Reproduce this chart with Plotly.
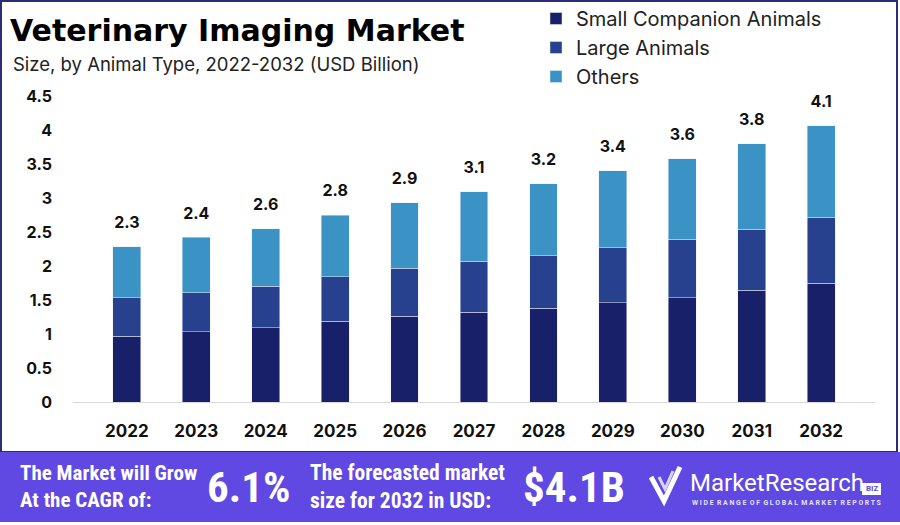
import plotly.graph_objects as go

years = ["2022", "2023", "2024", "2025", "2026", "2027", "2028", "2029", "2030", "2031", "2032"]
small_companion = [0.97, 1.03, 1.09, 1.19, 1.26, 1.32, 1.38, 1.46, 1.53, 1.64, 1.75]
large_animals = [0.56, 0.58, 0.61, 0.65, 0.71, 0.75, 0.77, 0.81, 0.86, 0.90, 0.97]
others = [0.75, 0.81, 0.85, 0.91, 0.96, 1.02, 1.06, 1.13, 1.19, 1.26, 1.34]
total_labels = ["2.3", "2.4", "2.6", "2.8", "2.9", "3.1", "3.2", "3.4", "3.6", "3.8", "4.1"]
y_ticks = [0, 0.5, 1, 1.5, 2, 2.5, 3, 3.5, 4, 4.5]
y_tick_text = ["0", "0.5", "1", "1.5", "2", "2.5", "3", "3.5", "4", "4.5"]

C_SMALL = "#19206A"
C_LARGE = "#27418E"
C_OTHER = "#3B92C4"
BANNER = "#6048E2"
BORDER = "#2B2C7A"

# plot area in pixels
L, R, T, B = 73, 875, 96, 402
W, H = 900, 525


def px(x):
    return (x - L) / (R - L)


def py(y):
    return (B - y) / (B - T)


fig = go.Figure()
fig.add_bar(x=years, y=small_companion, name="Small Companion Animals", marker_color=C_SMALL, legendgroup="a")
fig.add_bar(x=years, y=large_animals, name="Large Animals", marker_color=C_LARGE, legendgroup="b")
fig.add_bar(x=years, y=others, name="Others", marker_color=C_OTHER, legendgroup="c")

totals = [a + b + c for a, b, c in zip(small_companion, large_animals, others)]
fig.add_scatter(x=years, y=totals, text=total_labels, mode="markers+text", textposition="top center",
                marker=dict(size=22, opacity=0), showlegend=False, hoverinfo="skip", cliponaxis=False,
                textfont=dict(family="Inter", size=16, color="#111", weight=700))

annotations = []
# title and subtitle
annotations.append(dict(xref="paper", yref="paper", x=px(8), y=py(30), xanchor="left", yanchor="middle",
                        text="Veterinary Imaging Market", showarrow=False,
                        font=dict(family="DejaVu Sans", size=30, color="#000", weight=700)))
annotations.append(dict(xref="paper", yref="paper", x=px(11), y=py(64), xanchor="left", yanchor="middle",
                        text="Size, by Animal Type, 2022-2032 (USD Billion)", showarrow=False,
                        font=dict(family="Inter", size=18.5, color="#222")))

# banner texts
cond = "Roboto Condensed, Liberation Sans Narrow, Roboto"
annotations.append(dict(xref="paper", yref="paper", x=px(18), y=py(486), xanchor="left", yanchor="middle",
                        text="The Market will Grow<br>At the CAGR of:", showarrow=False, align="left",
                        font=dict(family=cond, size=21, color="white", weight=700)))
annotations.append(dict(xref="paper", yref="paper", x=px(205), y=py(487), xanchor="left", yanchor="middle",
                        text="6.1%", showarrow=False,
                        font=dict(family=cond, size=43, color="white", weight=700)))
annotations.append(dict(xref="paper", yref="paper", x=px(308), y=py(486), xanchor="left", yanchor="middle",
                        text="The forecasted market<br>size for 2032 in USD:", showarrow=False, align="left",
                        font=dict(family=cond, size=21.5, color="white", weight=700)))
annotations.append(dict(xref="paper", yref="paper", x=px(521), y=py(487), xanchor="left", yanchor="middle",
                        text="$4.1B", showarrow=False,
                        font=dict(family=cond, size=43, color="white", weight=700)))
annotations.append(dict(xref="paper", yref="paper", x=px(688), y=py(483), xanchor="left", yanchor="middle",
                        text="MarketResearch", showarrow=False,
                        font=dict(family="Roboto", size=24, color="white")))
annotations.append(dict(xref="paper", yref="paper", x=px(871.5), y=py(489), xanchor="center", yanchor="middle",
                        text="BIZ", showarrow=False,
                        font=dict(family="Roboto", size=8, color=BANNER, weight=700)))
annotations.append(dict(xref="paper", yref="paper", x=px(690), y=py(503), xanchor="left", yanchor="middle",
                        text="W I D E  R A N G E  O F  G L O B A L  M A R K E T  R E P O R T S", showarrow=False,
                        font=dict(family="Roboto", size=6.9, color="#E6E2FF", weight=700)))

shapes = [
    dict(type="rect", xref="paper", yref="paper", x0=px(1), x1=px(897), y0=py(1), y1=py(452),
         line=dict(color=BORDER, width=2), fillcolor="rgba(0,0,0,0)", layer="below"),
    dict(type="rect", xref="paper", yref="paper", x0=px(0), x1=px(900), y0=py(452), y1=py(522),
         line=dict(width=0), fillcolor=BANNER, layer="above"),
    dict(type="rect", xref="paper", yref="paper", x0=px(862), x1=px(881), y0=py(483), y1=py(495),
         line=dict(width=0), fillcolor="white", layer="above"),
    dict(type="path", xref="paper", yref="paper", layer="above",
         path=f"M {px(651)},{py(477)} L {px(664)},{py(501)} L {px(680)},{py(467)}",
         line=dict(color="white", width=5)),
    dict(type="path", xref="paper", yref="paper", layer="above",
         path=f"M {px(659)},{py(477)} L {px(665)},{py(489)} L {px(673)},{py(471)}",
         line=dict(color="#D8D2FF", width=3)),
]

fig.update_layout(
    width=W, height=H,
    margin=dict(l=L, r=W - R, t=T, b=H - B, autoexpand=False),
    paper_bgcolor="white", plot_bgcolor="white",
    barmode="stack", bargap=0.6,
    showlegend=True,
    legend=dict(x=(536 - L) / (R - L), y=py(-1), xanchor="left", yanchor="top",
                traceorder="normal", font=dict(family="Inter", size=20, color="#222"),
                bgcolor="rgba(0,0,0,0)", tracegroupgap=1, itemwidth=30),
    xaxis=dict(type="category", showline=True, linecolor="#D9D9D9", linewidth=1, showgrid=False, ticks="",
               tickfont=dict(family="Inter", size=17, color="#111", weight=700), ticklabelstandoff=14),
    yaxis=dict(range=[0, 4.5], tickvals=y_ticks, ticktext=y_tick_text, showgrid=False, zeroline=False,
               showline=False, ticks="",
               tickfont=dict(family="Inter", size=16, color="#111", weight=700), ticklabelstandoff=20),
    annotations=annotations,
    shapes=shapes,
)

fig.write_html("out.html")
